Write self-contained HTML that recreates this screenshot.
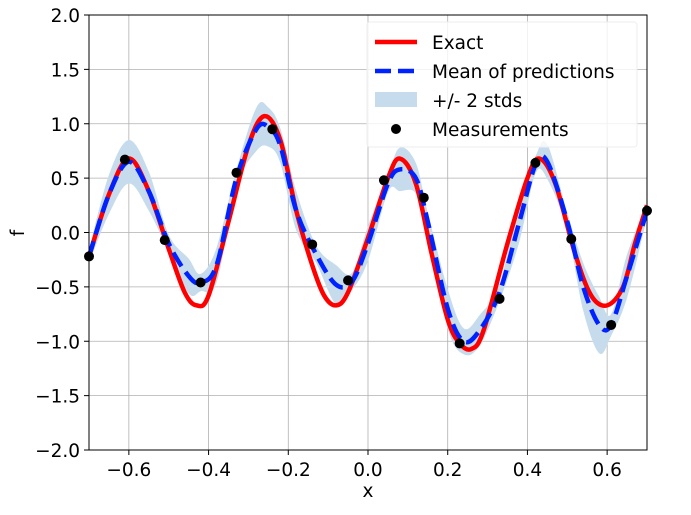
<!DOCTYPE html>
<html><head><meta charset="utf-8"><style>
body{margin:0;background:#fff}
svg text{font-family:"DejaVu Sans","Liberation Sans",sans-serif;fill:#000}
</style></head><body>
<svg id="c" width="691" height="510" xmlns="http://www.w3.org/2000/svg"></svg>
<script>
const exactX=[-0.70,-0.65,-0.60,-0.55,-0.50,-0.46,-0.43,-0.40,-0.35,-0.30,-0.26,-0.22,-0.18,-0.14,-0.11,-0.08,-0.05,0.0,0.05,0.08,0.12,0.16,0.20,0.23,0.26,0.29,0.35,0.40,0.43,0.47,0.52,0.56,0.60,0.64,0.67,0.70];
const exactY=[-0.22,0.35,0.68,0.38,-0.15,-0.55,-0.67,-0.58,0.1,0.8,1.07,0.85,0.2,-0.3,-0.58,-0.67,-0.55,-0.05,0.5,0.68,0.45,-0.2,-0.8,-1.02,-1.07,-0.9,-0.1,0.5,0.68,0.45,-0.2,-0.58,-0.67,-0.5,-0.1,0.25];
const meanX=[-0.70,-0.65,-0.60,-0.55,-0.50,-0.45,-0.42,-0.38,-0.33,-0.28,-0.25,-0.22,-0.18,-0.13,-0.08,-0.04,0.0,0.05,0.08,0.12,0.15,0.20,0.24,0.28,0.33,0.38,0.42,0.45,0.50,0.54,0.58,0.61,0.65,0.70];
const meanY=[-0.22,0.35,0.65,0.38,-0.1,-0.4,-0.46,-0.3,0.5,0.95,0.97,0.8,0.2,-0.2,-0.48,-0.45,-0.1,0.45,0.58,0.5,0.1,-0.7,-1.0,-0.9,-0.55,0.1,0.62,0.65,0.1,-0.5,-0.85,-0.85,-0.4,0.2];
const stdY=[0.03,0.09,0.1,0.09,0.04,0.08,0.04,0.08,0.04,0.1,0.09,0.08,0.09,0.04,0.09,0.04,0.08,0.04,0.1,0.07,0.04,0.09,0.06,0.07,0.04,0.09,0.04,0.08,0.04,0.11,0.13,0.05,0.1,0.03];
const measX=[-0.70,-0.61,-0.51,-0.42,-0.33,-0.24,-0.14,-0.05,0.04,0.14,0.23,0.33,0.42,0.51,0.61,0.70];
const measY=[-0.22,0.67,-0.07,-0.46,0.55,0.95,-0.11,-0.44,0.48,0.32,-1.02,-0.61,0.64,-0.06,-0.85,0.20];
const xTicks=[-0.6,-0.4,-0.2,0.0,0.2,0.4,0.6];
const xTickLabels=["−0.6","−0.4","−0.2","0.0","0.2","0.4","0.6"];
const yTicks=[-2,-1.5,-1,-0.5,0,0.5,1,1.5,2];
const yTickLabels=["−2.0","−1.5","−1.0","−0.5","0.0","0.5","1.0","1.5","2.0"];
const L=89,R=647,T=15,B=450;
const sx=v=>L+(v+0.7)/1.4*(R-L);
const sy=v=>B-(v+2)/4*(B-T);
const svg=document.getElementById('c');
const NS="http://www.w3.org/2000/svg";
function mk(t,a,p){const e=document.createElementNS(NS,t);for(const k in a)e.setAttribute(k,a[k]);(p||svg).appendChild(e);return e;}
function spline(pts){let d=`M${pts[0][0]},${pts[0][1]}`;for(let i=0;i<pts.length-1;i++){const p0=pts[Math.max(0,i-1)],p1=pts[i],p2=pts[i+1],p3=pts[Math.min(pts.length-1,i+2)];
d+=` C${p1[0]+(p2[0]-p0[0])/6},${p1[1]+(p2[1]-p0[1])/6} ${p2[0]-(p3[0]-p1[0])/6},${p2[1]-(p3[1]-p1[1])/6} ${p2[0]},${p2[1]}`;}return d;}
xTicks.forEach((v,i)=>{const g=mk('line',{x1:sx(v),x2:sx(v),y1:T,y2:B,stroke:'#b0b0b0','stroke-width':0.8});

mk('line',{x1:sx(v),x2:sx(v),y1:B,y2:B+5,stroke:'#000'});
const t=mk('text',{x:sx(v),y:B+26,'text-anchor':'middle','font-size':18.5});t.textContent=xTickLabels[i];
});
yTicks.forEach((v,i)=>{const g=mk('line',{x1:L,x2:R,y1:sy(v),y2:sy(v),stroke:'#b0b0b0','stroke-width':0.8});

mk('line',{x1:L-5,x2:L,y1:sy(v),y2:sy(v),stroke:'#000'});
const t=mk('text',{x:L-9,y:sy(v)+7,'text-anchor':'end','font-size':18.5});t.textContent=yTickLabels[i];
});
const up=meanX.map((x,i)=>[sx(x),sy(meanY[i]+2*stdY[i])]);
const lo=meanX.map((x,i)=>[sx(x),sy(meanY[i]-2*stdY[i])]).reverse();
const bd=spline(up)+' L'+lo[0][0]+','+lo[0][1]+spline(lo).replace(/^M[^C]*/,' ')+'Z';
const band=mk('path',{d:bd,fill:'#c6dcec'});

const ex=mk('path',{d:spline(exactX.map((x,i)=>[sx(x),sy(exactY[i])])),fill:'none',stroke:'#ff0000','stroke-width':4.5});

const mn=mk('path',{d:spline(meanX.map((x,i)=>[sx(x),sy(meanY[i])])),fill:'none',stroke:'#0022ff','stroke-width':4.5,'stroke-dasharray':'16 7'});

measX.forEach((x,i)=>{const c=mk('circle',{cx:sx(x),cy:sy(measY[i]),r:5,fill:'#000'});
});
const fr=mk('rect',{x:L,y:T,width:R-L,height:B-T,fill:'none',stroke:'#000','stroke-width':1});

const xl=mk('text',{x:(L+R)/2,y:497,'text-anchor':'middle','font-size':18.5});xl.textContent='x';

const yl=mk('text',{x:24,y:233,'text-anchor':'middle','font-size':18.5,transform:'rotate(-90 24 233)'});yl.textContent='f';

const lg=mk('g',{});
mk('rect',{x:367,y:22,width:270,height:125,rx:3,fill:'#fff','fill-opacity':0.8,stroke:'#eee'},lg);
mk('line',{x1:375,x2:417,y1:42,y2:42,stroke:'#ff0000','stroke-width':4.5},lg);
mk('line',{x1:375,x2:417,y1:71,y2:71,stroke:'#0022ff','stroke-width':4.5,'stroke-dasharray':'16 7'},lg);
mk('rect',{x:375,y:92,width:42,height:15,fill:'#c6dcec'},lg);
mk('circle',{cx:396,cy:129,r:5,fill:'#000'},lg);
[['Exact',49],['Mean of predictions',78],['+/- 2 stds',107],['Measurements',136]].forEach(([s,y])=>{const t=mk('text',{x:432,y:y,'font-size':18.5},lg);t.textContent=s;
});
</script>
</body></html>
